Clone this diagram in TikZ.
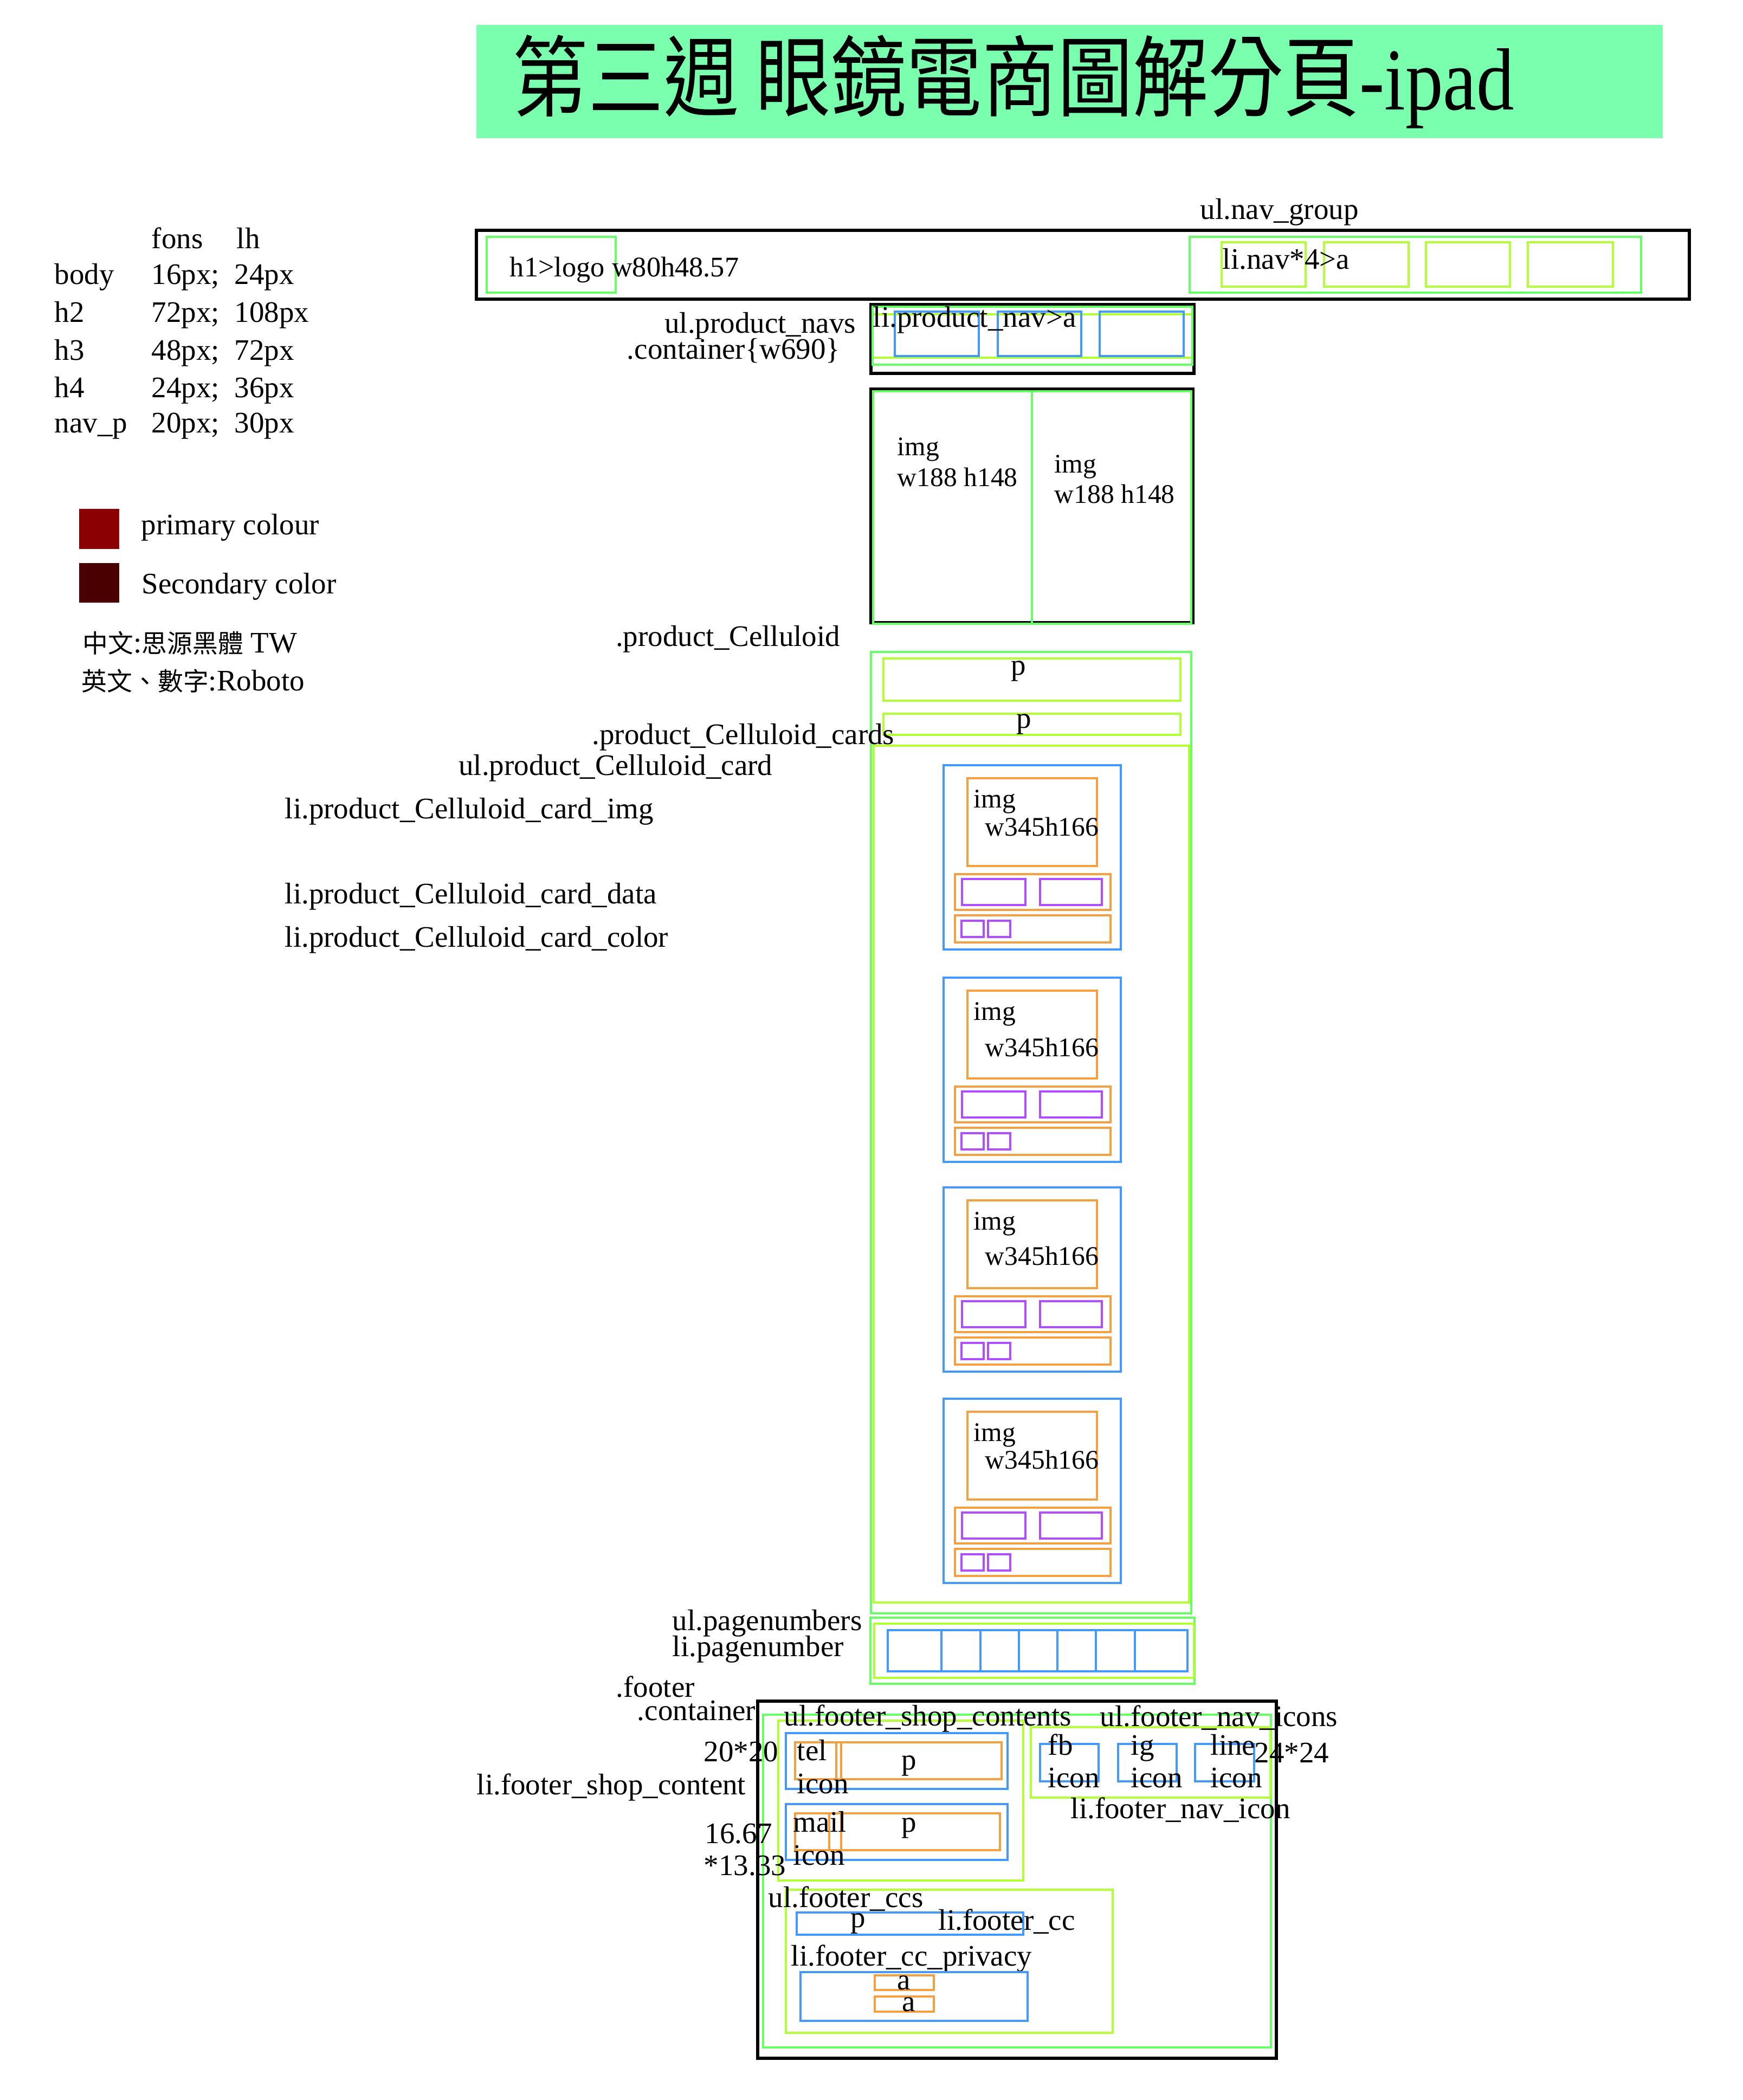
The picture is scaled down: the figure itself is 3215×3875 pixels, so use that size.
\documentclass[tikz,border=0pt]{standalone}
\usepackage{fontspec}
\setmainfont{Liberation Serif}
\newfontfamily\cjk{Noto Sans CJK TC}
\usepackage{graphicx}
\definecolor{mint}{RGB}{122,255,174}
\definecolor{gline}{RGB}{102,255,102}
\definecolor{yline}{RGB}{178,255,51}
\definecolor{bline}{RGB}{68,153,255}
\definecolor{oline}{RGB}{245,160,64}
\definecolor{pline}{RGB}{176,77,255}
\definecolor{primc}{RGB}{139,0,0}
\definecolor{secc}{RGB}{74,0,0}
\begin{document}
\begin{tikzpicture}[x=0.25pt,y=-0.25pt,
  kbox/.style={draw=black,line width=1.3pt},
  gbox/.style={draw=gline,line width=1pt},
  ybox/.style={draw=yline,line width=1.1pt},
  bbox/.style={draw=bline,line width=1pt},
  obox/.style={draw=oline,line width=1pt},
  pbox/.style={draw=pline,line width=1pt},
  lbl/.style={inner sep=0pt,font=\fontsize{13.75}{16}\selectfont,anchor=base west},
  lble/.style={lbl,anchor=base east},
  lblc/.style={lbl,anchor=base},
  sml/.style={lbl,font=\fontsize{12.4}{14}\selectfont}]
\useasboundingbox (0,0) rectangle (3215,3875);
\fill[white] (0,0) rectangle (3215,3875);

% title
\fill[mint] (879,46) rectangle (3068,255);
\node[inner sep=0pt,anchor=base west,font=\fontsize{34.8}{40}\selectfont] (title) at (945,203)
  {\scalebox{1}[1.17]{{\cjk 第三週 眼鏡電商圖解分頁}-ipad}};

% legend
\node[lbl] (lfons) at (279,458) {fons};
\node[lbl] (llh) at (436,458) {lh};
\node[lbl] (r1a) at (100,524) {body};  \node[lbl] (r1b) at (279,524) {16px;}; \node[lbl] (r1c) at (432,524) {24px};
\node[lbl] (r2a) at (100,594) {h2};    \node[lbl] (r2b) at (279,594) {72px;}; \node[lbl] (r2c) at (432,594) {108px};
\node[lbl] (r3a) at (100,664) {h3};    \node[lbl] (r3b) at (279,664) {48px;}; \node[lbl] (r3c) at (432,664) {72px};
\node[lbl] (r4a) at (100,733) {h4};    \node[lbl] (r4b) at (279,733) {24px;}; \node[lbl] (r4c) at (432,733) {36px};
\node[lbl] (r5a) at (100,798) {nav\_p}; \node[lbl] (r5b) at (279,798) {20px;}; \node[lbl] (r5c) at (432,798) {30px};
\fill[primc] (146,939) rectangle (220,1013);
\fill[secc] (146,1039) rectangle (220,1112);
\node[lbl] (lprim) at (260,986) {primary colour};
\node[lbl] (lsec) at (261,1095) {Secondary color};
\node[lbl] (lzh) at (152,1204) {{\cjk\fontsize{11.7}{14}\selectfont 中文}:{\cjk\fontsize{11.7}{14}\selectfont 思源黑體} TW};
\node[lbl] (len) at (150,1274) {{\cjk\fontsize{11.7}{14}\selectfont 英文、數字}:Roboto};

% header nav
\draw[kbox] (879,425) rectangle (3117,552);
\draw[gbox] (898,437) rectangle (1136,540);
\node[lbl,font=\fontsize{13.1}{16}\selectfont] (logo) at (940,510) {h1>logo w80h48.57};
\node[lbl] (navgroup) at (2214,404) {ul.nav\_group};
\draw[gbox] (2195,437) rectangle (3028,540);
\foreach \a/\b in {2254/2409,2443/2599,2631/2786,2819/2976}
  \draw[ybox] (\a,447) rectangle (\b,529);
\node[lbl] (navli) at (2255,496) {li.nav*4>a};

% product navs
\draw[kbox] (1607,562) rectangle (2203,689);
\draw[ybox] (1610,580) rectangle (2200,660);
\draw[gbox] (1610,566) rectangle (2200,673);
\foreach \a/\b in {1651/1806,1841/1995,2029/2184}
  \draw[bbox] (\a,575) rectangle (\b,657);
\node[lbl] (pnavli) at (1610,603) {li.product\_nav>a};
\node[lble] (pnavs) at (1580,614) {ul.product\_navs};
\node[lble] (pcont) at (1551,662) {.container\{w690\}};

% images
\draw[kbox] (1607,718) rectangle (2201,1149);
\draw[gbox] (1611,722) rectangle (1904,1151);
\draw[gbox] (1904,722) rectangle (2198,1151);
\node[sml] (img1a) at (1655,840) {img};
\node[sml] (img1b) at (1655,897) {w188 h148};
\node[sml] (img2a) at (1945,872) {img};
\node[sml] (img2b) at (1945,928) {w188 h148};

% celluloid
\node[lble] (cell) at (1551,1192) {.product\_Celluloid};
\draw[gbox] (1607,1203) rectangle (2198,2977);
\draw[ybox] (1630,1215) rectangle (2178,1293);
\node[lblc] (p1) at (1879,1245) {p};
\draw[ybox] (1630,1317) rectangle (2178,1356);
\node[lblc] (p2) at (1889,1343) {p};
\draw[ybox] (1612,1376) rectangle (2194,2957);
\node[lble] (cards) at (1651,1373) {.product\_Celluloid\_cards};
\node[lble] (cardul) at (1426,1430) {ul.product\_Celluloid\_card};
\node[lbl] (cimg) at (525,1510) {li.product\_Celluloid\_card\_img};
\node[lbl] (cdata) at (525,1667) {li.product\_Celluloid\_card\_data};
\node[lbl] (ccolor) at (525,1747) {li.product\_Celluloid\_card\_color};

\foreach \T/\w [count=\i] in {1412/130,1804/145,2191/143,2581/129}{
  \draw[bbox] (1741,\T) rectangle (2068,\T+340);
  \draw[obox] (1785,\T+24) rectangle (2024,\T+186);
  \draw[obox] (1762,\T+201) rectangle (2049,\T+267);
  \draw[pbox] (1775,\T+210) rectangle (1892,\T+258);
  \draw[pbox] (1919,\T+210) rectangle (2033,\T+258);
  \draw[obox] (1762,\T+277) rectangle (2049,\T+327);
  \draw[pbox] (1774,\T+287) rectangle (1815,\T+317);
  \draw[pbox] (1823,\T+287) rectangle (1864,\T+317);
  \node[sml] (cimg\i) at (1796,\T+78) {img};
  \node[sml] (csz\i) at (1817,\T+\w) {w345h166};
}

% page numbers
\draw[gbox] (1606,2985) rectangle (2204,3107);
\draw[ybox] (1613,2996) rectangle (2203,3096);
\draw[bbox] (1638,3008) rectangle (2191,3084);
\foreach \x in {1737,1809,1880,1951,2022,2094}
  \draw[bbox] (\x,3008) -- (\x,3084);
\node[lbl] (pnul) at (1240,3008) {ul.pagenumbers};
\node[lbl] (pnli) at (1240,3056) {li.pagenumber};

% footer
\node[lbl] (footer) at (1136,3131) {.footer};
\node[lble] (fcont) at (1395,3174) {.container};
\draw[kbox] (1398,3139) rectangle (2355,3798);
\draw[gbox] (1408,3164) rectangle (2345,3778);
\draw[ybox] (1436,3175) rectangle (1888,3470);
\node[lbl] (fshop) at (1446,3184) {ul.footer\_shop\_contents};
\draw[bbox] (1450,3198) rectangle (1859,3301);
\draw[obox] (1467,3215) rectangle (1552,3283);
\draw[obox] (1543,3215) rectangle (1848,3283);
\node[lbl] (tel) at (1470,3248) {tel};
\node[lbl] (telicon) at (1470,3309) {icon};
\node[lblc] (telp) at (1677,3265) {p};
\draw[bbox] (1450,3329) rectangle (1859,3432);
\draw[obox] (1467,3346) rectangle (1552,3414);
\draw[obox] (1530,3346) rectangle (1845,3414);
\node[lbl] (mail) at (1463,3380) {mail};
\node[lbl] (mailicon) at (1463,3441) {icon};
\node[lblc] (mailp) at (1677,3380) {p};
\node[lble] (s2020) at (1437,3250) {20*20};
\node[lble] (fshopli) at (1377,3311) {li.footer\_shop\_content};
\node[lbl] (s1667) at (1300,3401) {16.67};
\node[lbl] (s1333) at (1298,3460) {*13.33};

\draw[ybox] (1902,3187) rectangle (2344,3317);
\node[lbl] (fnav) at (2029,3185) {ul.footer\_nav\_icons};
\foreach \a/\b in {1919/2027,2063/2171,2205/2314}{
  \draw[bbox] (\a,3218) rectangle (\b,3287);
}
\node[lbl] (fb) at (1933,3238) {fb};
\node[lbl] (fbi) at (1933,3298) {icon};
\node[lbl] (ig) at (2086,3238) {ig};
\node[lbl] (igi) at (2086,3298) {icon};
\node[lbl] (line) at (2233,3238) {line};
\node[lbl] (linei) at (2233,3298) {icon};
\node[lbl] (s2424) at (2314,3252) {24*24};
\node[lbl] (fnavli) at (1975,3355) {li.footer\_nav\_icon};

\draw[ybox] (1450,3487) rectangle (2053,3751);
\node[lbl] (fccs) at (1417,3519) {ul.footer\_ccs};
\draw[bbox] (1470,3529) rectangle (1888,3570);
\node[lblc] (ccp) at (1583,3556) {p};
\node[lbl] (fcc) at (1731,3561) {li.footer\_cc};
\node[lbl] (fpriv) at (1459,3627) {li.footer\_cc\_privacy};
\draw[bbox] (1477,3639) rectangle (1896,3729);
\draw[obox] (1614,3645) rectangle (1723,3672);
\draw[obox] (1614,3684) rectangle (1723,3712);
\node[lblc] (a1) at (1668,3671) {a};
\node[lblc] (a2) at (1677,3711) {a};
\end{tikzpicture}
\end{document}
